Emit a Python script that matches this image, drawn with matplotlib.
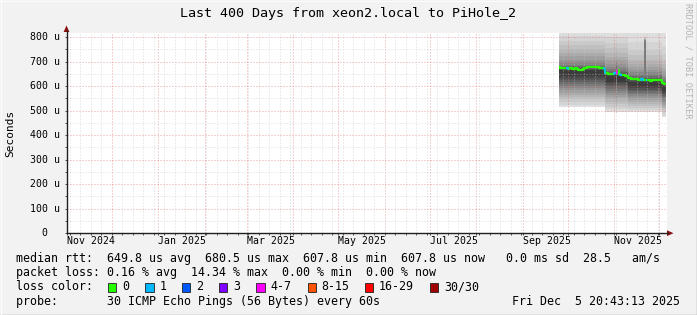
import numpy as np
import pandas as pd
import matplotlib
matplotlib.use("Agg")
import matplotlib.pyplot as plt
import matplotlib.dates as mdates
from matplotlib import transforms
from matplotlib.patches import Rectangle, Polygon
from matplotlib.lines import Line2D
from matplotlib.ticker import MultipleLocator

# ---------------- data ----------------
title = "Last 400 Days from xeon2.local to PiHole_2"
start_time = "2024-10-31 20:43:13"
end_time = "2025-12-05 20:43:13"
first_day = "2025-09-25"

# daily median RTT (microseconds), Sep 25 .. Dec 5 2025
median_rtt_us = [
    677, 676, 675, 674, 673, 674, 672, 673, 674, 672, 671, 673, 672, 668, 665, 668,
    672, 674, 676, 678, 679, 680, 678, 679, 680, 678, 677, 676, 675, 674, 672,
    655, 652, 650, 651, 649, 650, 652, 655, 665, 650, 646, 644, 645, 643, 642,
    633, 632, 630, 631, 629, 628, 629, 627, 626, 628, 627, 625, 624, 626, 625, 623,
    624, 625, 626, 624, 625, 626, 624,
    612, 609, 608,
]
# daily lost pings (of 30)
loss_pings = [
    0, 0, 0, 0, 0, 1, 0, 0, 0, 0, 0, 0, 0, 0, 0, 0,
    0, 0, 0, 0, 0, 0, 0, 0, 0, 0, 0, 0, 0, 0, 1,
    0, 0, 0, 0, 0, 0, 1, 4.3, 0, 0, 1, 0, 0, 0, 0,
    0, 0, 0, 0, 0, 0, 0, 0, 0, 1, 0, 0, 1, 0, 0, 0,
    0, 0, 0, 0, 0, 0, 0,
    0, 0, 0,
]

# smoke: 30 sorted ping values (us) per period
period_starts = ["2025-09-25", "2025-10-26", "2025-11-02", "2025-11-03",
                 "2025-11-10", "2025-11-21", "2025-11-22", "2025-12-03"]
profile_a = [514, 525, 536, 546, 556, 565, 574, 583, 592, 600, 608, 616, 624, 632, 640,
             664, 668, 672, 677, 682, 688, 697, 708, 722, 737, 752, 768, 785, 805, 900]
profile_b = [495, 506, 517, 527, 537, 546, 555, 564, 573, 581, 589, 597, 605, 612, 619,
             640, 645, 650, 656, 662, 669, 678, 690, 705, 720, 737, 755, 775, 800, 900]
profile_b_spike = [490, 497, 505, 513, 521, 530, 540, 552, 566, 582, 600, 620, 640, 652, 660,
                   668, 672, 676, 681, 687, 694, 702, 712, 724, 738, 752, 768, 785, 805, 900]
profile_c = [495, 504, 512, 520, 528, 536, 544, 552, 560, 567, 574, 580, 586, 592, 598,
             618, 622, 628, 634, 641, 648, 657, 667, 678, 692, 708, 726, 748, 780, 900]
profile_c_spike = [495, 504, 512, 520, 528, 536, 544, 552, 560, 567, 574, 580, 586, 592, 598,
                   618, 622, 628, 634, 641, 785, 787, 789, 791, 793, 795, 797, 799, 805, 900]
profile_d = [475, 484, 493, 501, 509, 517, 525, 533, 541, 548, 555, 561, 567, 573, 579,
             600, 604, 610, 616, 623, 630, 639, 649, 660, 674, 690, 708, 730, 765, 900]
period_profiles = [profile_a, profile_b, profile_b_spike, profile_b,
                   profile_c, profile_c_spike, profile_c, profile_d]
band_grays = [222, 212, 202, 192, 182, 171, 160, 148, 136, 123, 110, 97, 84, 72, 60]

y_ticks = [0, 100, 200, 300, 400, 500, 600, 700, 800]
y_tick_labels = ["  0", "100 u", "200 u", "300 u", "400 u", "500 u", "600 u", "700 u", "800 u"]
x_label_dates = ["2024-11-01", "2025-01-01", "2025-03-01", "2025-05-01",
                 "2025-07-01", "2025-09-01", "2025-11-01"]
x_label_texts = ["Nov 2024", "Jan 2025", "Mar 2025", "May 2025",
                 "Jul 2025", "Sep 2025", "Nov 2025"]

loss_bins = [0, 1, 2, 3, 4, 8, 16, 30]
loss_colors = ["#26ff00", "#00b8ff", "#0059ff", "#7e00ff",
               "#ff00ff", "#ff5500", "#ff0000", "#a10000"]
loss_labels = ["0", "1", "2", "3", "4-7", "8-15", "16-29", "30/30"]

rtt_line = "median rtt:  649.8 us avg  680.5 us max  607.8 us min  607.8 us now   0.0 ms sd  28.5   am/s"
loss_line = "packet loss: 0.16 % avg  14.34 % max  0.00 % min  0.00 % now"
probe_line = "probe:       30 ICMP Echo Pings (56 Bytes) every 60s"
stamp_text = "Fri Dec  5 20:43:13 2025"

# ---------------- layout ----------------
W, H = 697, 315
MONO = "DejaVu Sans Mono"
BG = "#f2f2f2"


def fx(px):
    return px / W


def fy(py):
    return 1 - py / H


fig = plt.figure(figsize=(W / 100, H / 100), dpi=100, facecolor=BG)
ax = fig.add_axes([fx(66.5), fy(233.2), 600 / W, 200.2 / H])
ax.set_facecolor("white")

t0 = pd.Timestamp(start_time)
t1 = pd.Timestamp(end_time)
ax.set_xlim(mdates.date2num(t0), mdates.date2num(t1))
ax.set_ylim(0, 817)

days = pd.date_range(first_day, periods=len(median_rtt_us), freq="D")
edges = list(days) + [t1]
xe = mdates.date2num(pd.DatetimeIndex(edges))

# smoke
pidx = np.searchsorted(pd.DatetimeIndex(period_starts).values, days.values, side="right") - 1
prof = np.array([period_profiles[i] for i in pidx], dtype=float)
prof = np.vstack([prof, prof[-1:]])
n = prof.shape[1]
for k, g in enumerate(band_grays):
    lo = prof[:, k]
    hi = prof[:, n - 1 - k]
    c = "#%02x%02x%02x" % (g, g, g)
    ax.fill_between(xe, lo, hi, step="post", color=c, lw=0, zorder=1)

# median line colored by loss
med = np.array(median_rtt_us + [median_rtt_us[-1]], dtype=float)
loss = np.array(loss_pings + [loss_pings[-1]], dtype=float)
ax.plot(xe, med, drawstyle="steps-post", color=loss_colors[0], lw=1.6, zorder=3,
        solid_capstyle="butt")
for i in range(1, len(loss_bins)):
    lo_b = loss_bins[i]
    hi_b = loss_bins[i + 1] if i + 1 < len(loss_bins) else 31
    mask = (loss >= lo_b) & (loss < hi_b)
    for j in np.where(mask[:-1])[0]:
        ax.plot([xe[j], xe[j + 1]], [med[j], med[j]], color=loss_colors[i], lw=1.6,
                zorder=4, solid_capstyle="butt")
        if j > 0:
            ax.plot([xe[j], xe[j]], [med[j - 1], med[j]], color=loss_colors[i], lw=1.2, zorder=4)
        ax.plot([xe[j + 1], xe[j + 1]], [med[j], med[j + 1]], color=loss_colors[i], lw=1.2, zorder=4)

# grid
ax.xaxis.set_major_locator(mdates.MonthLocator())
ax.xaxis.set_minor_locator(mdates.WeekdayLocator(byweekday=mdates.SU))
ax.yaxis.set_major_locator(MultipleLocator(100))
ax.yaxis.set_minor_locator(MultipleLocator(50))
ax.set_axisbelow(False)
ax.grid(which="minor", color="#c4c4c4", ls=(0, (1, 2)), lw=0.72, alpha=0.6)
ax.grid(which="major", color="#e06a6a", ls=(0, (1, 2)), lw=0.72, alpha=0.6)
ax.tick_params(which="both", direction="out", length=1.6, width=0.7, color="#505050",
               labelleft=False, labelbottom=False)
for s in ax.spines.values():
    s.set_visible(False)

# axes lines and arrows
fig.add_artist(Line2D([fx(66.5), fx(668)], [fy(233.2), fy(233.2)], color="#202020", lw=1.0))
fig.add_artist(Line2D([fx(66.5), fx(66.5)], [fy(233.2), fy(31)], color="#202020", lw=1.0))
fig.add_artist(Polygon([[fx(667), fy(230.3)], [fx(667), fy(236.1)], [fx(673.5), fy(233.2)]],
                       closed=True, transform=fig.transFigure, color="#8b1010", lw=0))
fig.add_artist(Polygon([[fx(63.6), fy(32)], [fx(69.4), fy(32)], [fx(66.5), fy(25.5)]],
                       closed=True, transform=fig.transFigure, color="#8b1010", lw=0))

# tick labels
ytr = transforms.blended_transform_factory(fig.transFigure, ax.transData)
for v, lab in zip(y_ticks, y_tick_labels):
    fig.text(fx(30), v, lab, transform=ytr, ha="left", va="center", fontsize=7.1,
             family=MONO, color="black")
xtr = transforms.blended_transform_factory(ax.transData, fig.transFigure)
for d, lab in zip(x_label_dates, x_label_texts):
    fig.text(mdates.date2num(pd.Timestamp(d)), fy(241), lab, transform=xtr, ha="left",
             va="center", fontsize=7.1, family=MONO, color="black")

# title, y label, watermark
fig.text(0.5, fy(13), title, ha="center", va="center", fontsize=9.6, family=MONO, color="black")
fig.text(fx(10), fy(133), "Seconds", rotation=90, ha="center", va="center", fontsize=8,
         family=MONO, color="black")
fig.text(fx(688), fy(61), "RRDTOOL / TOBI OETIKER", rotation=270, ha="center", va="center",
         fontsize=6.2, family=MONO, color="#b4b4b4")

# legend rows
LF = 8.4
row_y = [258.5, 272.5, 287, 301.5]
fig.text(fx(16), fy(row_y[0]), rtt_line, ha="left", va="center", fontsize=LF, family=MONO)
fig.text(fx(16), fy(row_y[1]), loss_line, ha="left", va="center", fontsize=LF, family=MONO)
fig.text(fx(16), fy(row_y[2]), "loss color:", ha="left", va="center", fontsize=LF, family=MONO)
box_x = [108, 145.3, 182, 219, 256.4, 307.5, 365, 430]
for bx, c, lab in zip(box_x, loss_colors, loss_labels):
    fig.add_artist(Rectangle((fx(bx), fy(row_y[2] + 4.5)), 8.4 / W, 9 / H,
                             transform=fig.transFigure, facecolor=c, edgecolor="#202020", lw=0.6))
    fig.text(fx(bx + 14), fy(row_y[2]), lab, ha="left", va="center", fontsize=LF, family=MONO)
fig.text(fx(16), fy(row_y[3]), probe_line, ha="left", va="center", fontsize=LF, family=MONO)
fig.text(fx(680.5), fy(row_y[3]), stamp_text, ha="right", va="center", fontsize=LF, family=MONO)

# frame
fig.add_artist(Line2D([0, 1], [fy(314.5), fy(314.5)], color="#9c9c9c", lw=1.0))
fig.add_artist(Line2D([fx(696.5), fx(696.5)], [0, 1], color="#9c9c9c", lw=1.0))
fig.add_artist(Line2D([0, 1], [fy(0.5), fy(0.5)], color="#fcfcfc", lw=1.0))
fig.add_artist(Line2D([fx(0.5), fx(0.5)], [0, 1], color="#fcfcfc", lw=1.0))

fig.savefig("out.png", dpi=100, facecolor=BG)
